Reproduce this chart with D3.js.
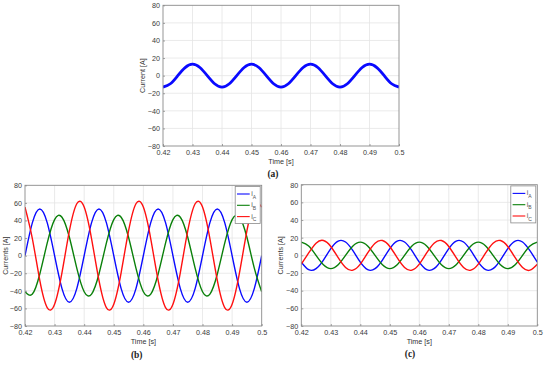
<!DOCTYPE html>
<html><head><meta charset="utf-8">
<script src="https://cdn.jsdelivr.net/npm/d3@7/dist/d3.min.js"></script>
<style>
html,body{margin:0;padding:0;background:#fff;}
svg text{font-family:"Liberation Sans",Arial,sans-serif;}
</style></head>
<body>
<svg id="chart" width="550" height="367"></svg>
<script>
// ---- data ----
const times = [0.42,0.4225,0.425,0.4275,0.43,0.4325,0.435,0.4375,0.44,0.4425,0.445,0.4475,0.45,0.4525,0.455,0.4575,0.46,0.4625,0.465,0.4675,0.47,0.4725,0.475,0.4775,0.48,0.4825,0.485,0.4875,0.49,0.4925,0.495,0.4975,0.5];

// panel (a): single current
const currentA = [-13,-9.2,0,9.2,13,9.2,0,-9.2,-13,-9.2,0,9.2,13,9.2,0,-9.2,-13,-9.2,0,9.2,13,9.2,0,-9.2,-13,-9.2,0,9.2,13,9.2,0,-9.2,-13];

// panel (b): three-phase currents
const bA = [0,37.5,53,37.5,0,-37.5,-53,-37.5,0,37.5,53,37.5,0,-37.5,-53,-37.5,0,37.5,53,37.5,0,-37.5,-53,-37.5,0,37.5,53,37.5,0,-37.5,-53,-37.5,0];
const bB = [-41,-43.7,-20.9,14.2,41,43.7,20.9,-14.2,-41,-43.7,-20.9,14.2,41,43.7,20.9,-14.2,-41,-43.7,-20.9,14.2,41,43.7,20.9,-14.2,-41,-43.7,-20.9,14.2,41,43.7,20.9,-14.2,-41];
const bC = [55.2,19.2,-28.1,-59,-55.2,-19.2,28.1,59,55.2,19.2,-28.1,-59,-55.2,-19.2,28.1,59,55.2,19.2,-28.1,-59,-55.2,-19.2,28.1,59,55.2,19.2,-28.1,-59,-55.2,-19.2,28.1,59,55.2];

// panel (c): three-phase currents
const cA = [-7.7,-16.2,-15.1,-5.3,7.7,16.2,15.1,5.3,-7.7,-16.2,-15.1,-5.3,7.7,16.2,15.1,5.3,-7.7,-16.2,-15.1,-5.3,7.7,16.2,15.1,5.3,-7.7,-16.2,-15.1,-5.3,7.7,16.2,15.1,5.3,-7.7];
const cB = [15,10.6,0,-10.6,-15,-10.6,0,10.6,15,10.6,0,-10.6,-15,-10.6,0,10.6,15,10.6,0,-10.6,-15,-10.6,0,10.6,15,10.6,0,-10.6,-15,-10.6,0,10.6,15];
const cC = [-10,2.7,13.8,16.8,10,-2.7,-13.8,-16.8,-10,2.7,13.8,16.8,10,-2.7,-13.8,-16.8,-10,2.7,13.8,16.8,10,-2.7,-13.8,-16.8,-10,2.7,13.8,16.8,10,-2.7,-13.8,-16.8,-10];

const xTicks = [0.42,0.43,0.44,0.45,0.46,0.47,0.48,0.49,0.5];
const xTickLabels = ["0.42","0.43","0.44","0.45","0.46","0.47","0.48","0.49","0.5"];
const yTicks = [-80,-60,-40,-20,0,20,40,60,80];
const phaseNames = ["A","B","C"];
const phaseColors = ["#0a0aff","#0a800a","#ff1010"];

// ---- drawing ----
const svg = d3.select("#chart");
let clipId = 0;

function panel(box, series, ylabel, caption, opts) {
  const x = d3.scaleLinear().domain([0.42,0.5]).range([box.l, box.r]);
  const y = d3.scaleLinear().domain([-80,80]).range([box.b, box.t]);
  const g = svg.append("g");
  const id = "clip" + (clipId++);
  g.append("clipPath").attr("id", id).append("rect")
    .attr("x", box.l).attr("y", box.t).attr("width", box.r-box.l).attr("height", box.b-box.t);

  // grid
  g.append("g").selectAll("line").data(xTicks.slice(1,-1)).join("line")
    .attr("x1", d=>x(d)).attr("x2", d=>x(d)).attr("y1", box.t).attr("y2", box.b)
    .attr("stroke", "#e4e4e4").attr("stroke-width", 0.8);
  g.append("g").selectAll("line").data(yTicks.slice(1,-1)).join("line")
    .attr("y1", d=>y(d)).attr("y2", d=>y(d)).attr("x1", box.l).attr("x2", box.r)
    .attr("stroke", "#e4e4e4").attr("stroke-width", 0.8);

  // series
  const line = d3.line().x((d,i)=>x(times[i])).y(d=>y(d)).curve(d3.curveNatural);
  const sg = g.append("g").attr("clip-path", `url(#${id})`);
  series.forEach(s => {
    sg.append("path").attr("d", line(s.values)).attr("fill","none")
      .attr("stroke", s.color).attr("stroke-width", s.width);
  });

  // axes via d3
  const xAxis = d3.axisBottom(x).tickValues(xTicks).tickFormat((d,i)=>xTickLabels[i]).tickSize(-2).tickPadding(4);
  const yAxis = d3.axisLeft(y).tickValues(yTicks).tickSize(-2).tickPadding(3);
  const gx = g.append("g").attr("transform", `translate(0,${box.b})`).call(xAxis);
  const gy = g.append("g").attr("transform", `translate(${box.l},0)`).call(yAxis);
  [gx, gy].forEach(a => {
    a.select(".domain").remove();
    a.selectAll("line").attr("stroke", "#8a8a8a").attr("stroke-width", 0.8);
    a.selectAll("text").attr("fill", "#3a3a3a").style("font-size", "7.2px");
  });
  // box
  g.append("rect").attr("x", box.l).attr("y", box.t).attr("width", box.r-box.l).attr("height", box.b-box.t)
    .attr("fill","none").attr("stroke","#8a8a8a").attr("stroke-width",0.9);

  // labels
  g.append("text").attr("x", (box.l+box.r)/2).attr("y", box.b+17.5).attr("text-anchor","middle")
    .attr("fill","#333").style("font-size","7.2px").text("Time [s]");
  g.append("text").attr("transform", `translate(${box.l-opts.ylabDx},${(box.t+box.b)/2}) rotate(-90)`)
    .attr("text-anchor","middle").attr("fill","#333").style("font-size","7.2px").text(ylabel);
  g.append("text").attr("x", opts.capX).attr("y", opts.capY).attr("text-anchor","middle")
    .attr("fill","#222").style("font-family","'Liberation Serif','Times New Roman',serif")
    .style("font-size","9.5px").style("font-weight","bold").text(caption);

  // legend
  if (opts.legend) {
    const lw = 25, lh = 37;
    const lx = box.r - lw - 1.5, ly = box.t + 1.2;
    const lg = g.append("g");
    lg.append("rect").attr("x", lx).attr("y", ly).attr("width", lw).attr("height", lh)
      .attr("fill","#fff").attr("stroke","#8a8a8a").attr("stroke-width",0.8);
    series.forEach((s,i) => {
      const yy = ly + 7.5 + i*11.3;
      lg.append("line").attr("x1", lx+1.8).attr("x2", lx+14.5).attr("y1", yy).attr("y2", yy)
        .attr("stroke", s.color).attr("stroke-width", 1.1);
      const t = lg.append("text").attr("x", lx+16).attr("y", yy+2).attr("fill","#555").style("font-size","7px");
      t.append("tspan").text("i");
      t.append("tspan").attr("dy", 2.5).style("font-size","5px").text(s.name);
    });
  }
}

panel({l:163, r:399, t:5.3, b:146},
  [{values: currentA, color:"#0a0aff", width:2.8, name:""}],
  "Current [A]", "(a)", {ylabDx:18, capX:273, capY:177, legend:false});

panel({l:25, r:261.7, t:185.3, b:326},
  [bA,bB,bC].map((v,i)=>({values:v, color:phaseColors[i], width:1.4, name:phaseNames[i]})),
  "Currents [A]", "(b)", {ylabDx:17, capX:136.7, capY:358, legend:true});

panel({l:301.3, r:537.3, t:184.7, b:326},
  [cA,cB,cC].map((v,i)=>({values:v, color:phaseColors[i], width:1.4, name:phaseNames[i]})),
  "Currents [A]", "(c)", {ylabDx:18, capX:410, capY:357, legend:true});
</script>
</body></html>
